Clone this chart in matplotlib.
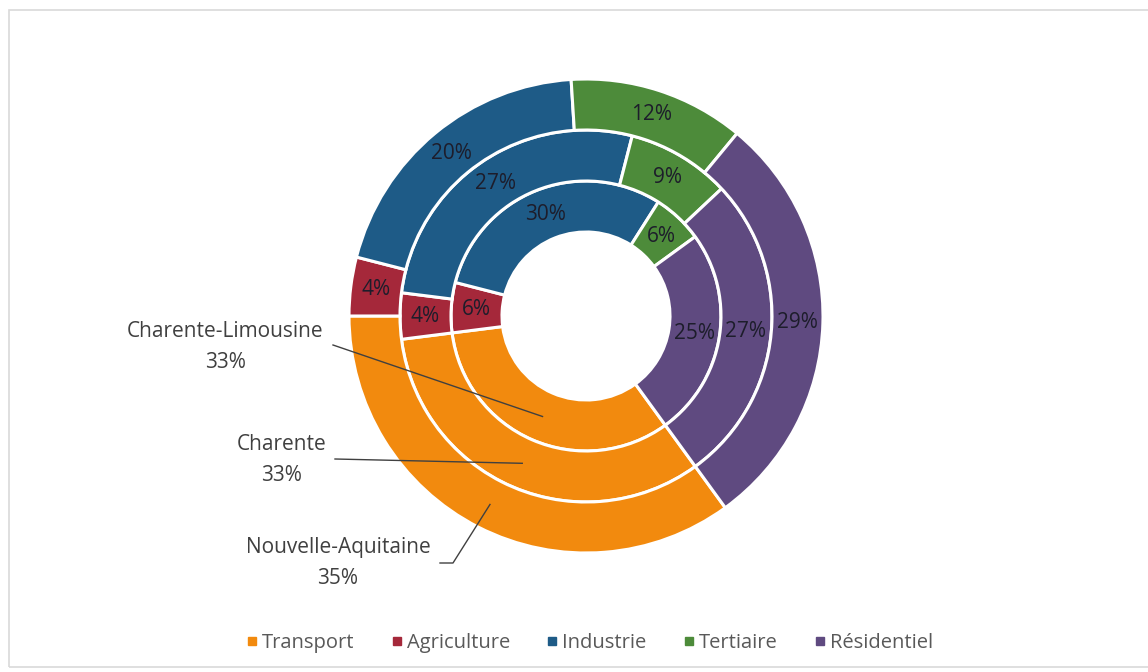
import numpy as np
import matplotlib.pyplot as plt
from matplotlib.lines import Line2D
from matplotlib.patches import Rectangle

# Part de chaque secteur dans la consommation (en %), du centre vers l'extérieur
sectors = ["Transport", "Agriculture", "Industrie", "Tertiaire", "Résidentiel"]
colors = ["#F28A0E", "#A5283A", "#1E5B87", "#4D8B3A", "#5F4A80"]

regions = ["Charente-Limousine", "Charente", "Nouvelle-Aquitaine"]
charente_limousine = [33, 6, 30, 6, 25]
charente = [33, 4, 27, 9, 27]
nouvelle_aquitaine = [35, 4, 20, 12, 29]
series = [charente_limousine, charente, nouvelle_aquitaine]

W, H = 1148, 672
CX, CY = 586, 356          # centre of the rings, pixel space (y up)
RING = 51                  # ring thickness in px
HOLE = 84                  # radius of the white hole
START = -54                # first slice start angle (deg)

# where each region's Transport call-out text sits (pixel space)
callouts = [(225, 325, 333, 327), (282, 212, 335, 213), (338, 109, 440, 109)]

plt.rcParams["font.family"] = ["Open Sans", "DejaVu Sans"]

fig = plt.figure(figsize=(W / 100, H / 100), dpi=100)
ax = fig.add_axes([0, 0, 1, 1])

for i, values in enumerate(series):
    r_out = HOLE + RING * (i + 1)
    ax.pie(values, radius=r_out, center=(CX, CY), startangle=START,
           counterclock=False, colors=colors,
           wedgeprops=dict(width=RING, edgecolor="white", linewidth=2.2))

    # percentage labels at the middle of each wedge
    r_mid = r_out - RING / 2
    bounds = START - np.cumsum([0] + values) * 3.6
    for k, v in enumerate(values):
        ang = np.deg2rad((bounds[k] + bounds[k + 1]) / 2)
        x, y = CX + r_mid * np.cos(ang), CY + r_mid * np.sin(ang)
        if k == 0:
            tx, ty, lx, ly = callouts[i]
            ax.text(tx, ty, f"{regions[i]}\n{v}%", ha="center", va="center",
                    fontsize=15, color="#404040", linespacing=1.6)
            if i == 2:
                ax.plot([lx, lx + 13, x], [ly, ly, y], color="#404040", lw=1)
            else:
                ax.plot([lx, x], [ly, y], color="#404040", lw=1)
        else:
            ax.text(x, y, f"{v}%", ha="center", va="center",
                    fontsize=15, color="#1d1d2b")

ax.set_xlim(0, W)
ax.set_ylim(0, H)
ax.set_aspect("equal")
ax.axis("off")

# chart area border
fig.patches.append(Rectangle((9, 5), W + 20, H - 15, transform=None,
                             fill=False, edgecolor="#d9d9d9", lw=1.2))

handles = [Line2D([], [], marker="s", linestyle="", markersize=5.5,
                  markerfacecolor=c, markeredgecolor=c) for c in colors]
fig.legend(handles, sectors, loc="center", bbox_to_anchor=(590 / W, 29 / H),
           ncol=5, frameon=False, fontsize=14.5, labelcolor="#595959",
           handletextpad=0.25, columnspacing=1.85, handlelength=0.5)

fig.savefig("out.png", dpi=100, facecolor="white")
